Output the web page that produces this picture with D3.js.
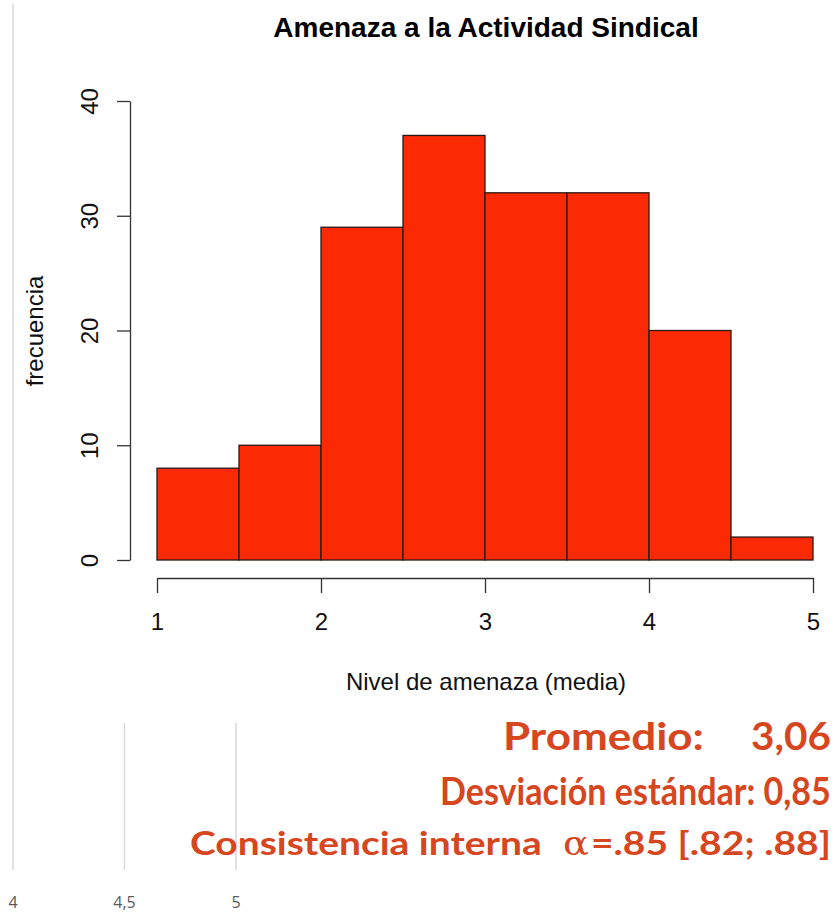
<!DOCTYPE html>
<html><head><meta charset="utf-8">
<script src="https://cdn.jsdelivr.net/npm/d3@7"></script>
<style>body{margin:0;background:#fff}</style>
</head><body>
<script>
const binStarts = [1, 1.5, 2, 2.5, 3, 3.5, 4, 4.5];
const binWidth = 0.5;
const counts = [8, 10, 29, 37, 32, 32, 20, 2];
const xTicks = [1, 2, 3, 4, 5];
const yTicks = [0, 10, 20, 30, 40];
const bgTickLabels = ["4", "4,5", "5"];
const meanLabel = "Promedio:", meanValue = "3,06";
const sdLine = "Desviación estándar: 0,85";
const alphaPre = "Consistencia interna", alphaSym = "α", alphaPost = "=.85 [.82; .88]";

const W = 836, H = 913;
const svg = d3.select("body").append("svg").attr("width", W).attr("height", H);

// background gridlines from underlying slide chart
const bgX = d3.scalePoint().domain(bgTickLabels).range([13, 236]);
svg.append("line").attr("x1", 13).attr("x2", 13).attr("y1", 4).attr("y2", 870)
  .attr("stroke", "#d9d9d9").attr("stroke-width", 1.5);
bgTickLabels.slice(1).forEach(d => {
  svg.append("line").attr("x1", bgX(d)).attr("x2", bgX(d)).attr("y1", 723).attr("y2", 870)
    .attr("stroke", "#d9d9d9").attr("stroke-width", 1.5);
});
svg.selectAll("text.bg").data(bgTickLabels).enter().append("text")
  .attr("x", d => bgX(d)).attr("y", 908).attr("text-anchor", "middle")
  .attr("font-family", "Open Sans, sans-serif").attr("font-size", 16).attr("fill", "#595959").text(d => d);

const x = d3.scaleLinear().domain([1, 5]).range([157, 813]);
const y = d3.scaleLinear().domain([0, 40]).range([560, 101]);

svg.selectAll("rect.bar").data(counts).enter().append("rect")
  .attr("x", (d, i) => x(binStarts[i]))
  .attr("width", (d, i) => x(binStarts[i] + binWidth) - x(binStarts[i]))
  .attr("y", d => y(d)).attr("height", d => y(0) - y(d))
  .attr("fill", "#fb2a05").attr("stroke", "#2a1a14").attr("stroke-width", 1.3);

const font = "Liberation Sans, Arial, sans-serif";
// x axis
const xa = svg.append("g").attr("transform", "translate(0,578)")
  .call(d3.axisBottom(x).tickValues(xTicks).tickSize(15).tickPadding(20).tickSizeOuter(0).tickFormat(d3.format("d")));
xa.select(".domain").attr("stroke", "#333").attr("stroke-width", 1.3);
xa.selectAll(".tick line").attr("stroke", "#333").attr("stroke-width", 1.3);
xa.selectAll("text").attr("font-family", font).attr("font-size", 24).attr("fill", "#111");

// y axis
const ya = svg.append("g").attr("transform", "translate(130,0)")
  .call(d3.axisLeft(y).tickValues(yTicks).tickSize(13).tickPadding(0).tickSizeOuter(0));
ya.select(".domain").attr("stroke", "#333").attr("stroke-width", 1.3);
ya.selectAll(".tick line").attr("stroke", "#333").attr("stroke-width", 1.3);
ya.selectAll(".tick text").attr("font-family", font).attr("font-size", 24).attr("fill", "#111")
  .attr("text-anchor", "middle")
  .attr("transform", "rotate(-90,-40,0)").attr("x", -40).attr("y", 0).attr("dy", "0.35em");

// titles
svg.append("text").attr("x", 486).attr("y", 37).attr("text-anchor", "middle")
  .attr("font-family", font).attr("font-weight", "bold").attr("font-size", 28).attr("fill", "#000")
  .text("Amenaza a la Actividad Sindical");
svg.append("text").attr("x", 486).attr("y", 690).attr("text-anchor", "middle")
  .attr("font-family", font).attr("font-size", 24).attr("fill", "#111")
  .text("Nivel de amenaza (media)");
svg.append("text").attr("transform", "translate(43,331) rotate(-90)").attr("text-anchor", "middle")
  .attr("font-family", font).attr("font-size", 24).attr("fill", "#111").text("frecuencia");

// stats text (horizontally scaled to the reference extents)
const orange = "#d6461f";
const sf = "Lato, Open Sans, sans-serif";
function st(txt, x0, x1, yb, size, weight, fam) {
  const t = svg.append("text").attr("x", 0).attr("y", 0)
    .attr("font-family", fam || sf).attr("font-weight", weight || "bold").attr("font-size", size)
    .attr("fill", orange).text(txt);
  const nat = t.node().getComputedTextLength();
  t.attr("transform", `translate(${x0},${yb}) scale(${(x1 - x0) / nat},1)`);
}
st(meanLabel, 503, 704, 750, 38);
st(meanValue, 751, 831, 750, 38);
st(sdLine, 440, 831, 805, 38);
st(alphaPre, 190, 542, 855, 33);
st(alphaSym, 563, 589, 855, 34, "normal", "DejaVu Serif, serif");
st(alphaPost, 591, 831, 855, 33);
</script>
</body></html>
